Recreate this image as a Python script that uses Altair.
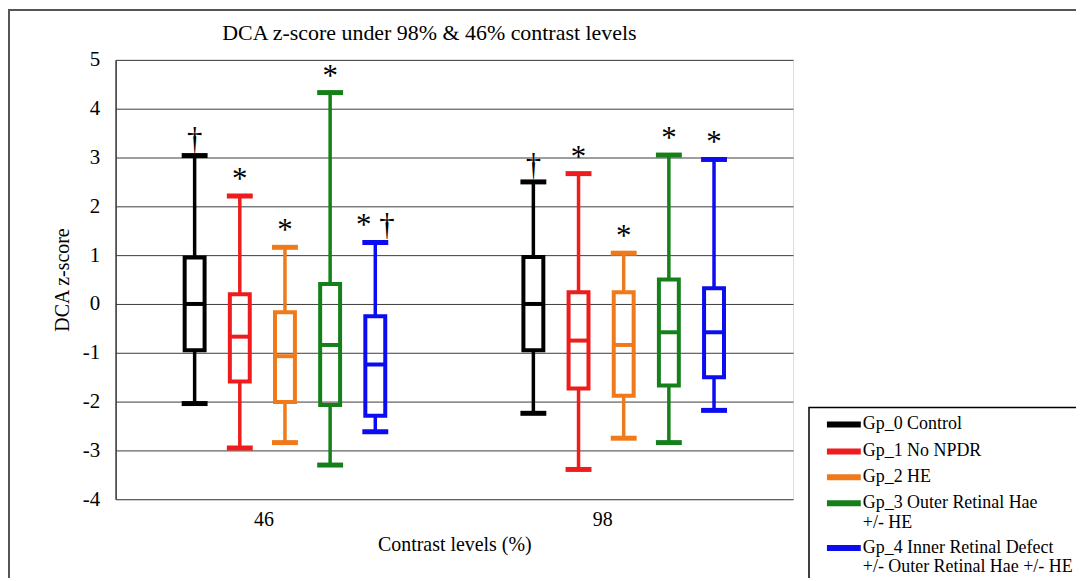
import altair as alt
import pandas as pd

levels = ["46", "98"]
groups = [
    "Gp_0 Control",
    "Gp_1 No NPDR",
    "Gp_2 HE",
    "Gp_3 Outer Retinal Hae|+/- HE",
    "Gp_4 Inner Retinal Defect|+/- Outer Retinal Hae +/- HE",
]
colors = ["#000000", "#ee1c1c", "#f07a1a", "#15801a", "#0c0cf0"]

# five-number summaries per group
low_46 = [-2.04, -2.95, -2.84, -3.30, -2.62]
q1_46 = [-0.95, -1.59, -2.01, -2.07, -2.29]
med_46 = [0.00, -0.67, -1.07, -0.84, -1.24]
q3_46 = [0.95, 0.20, -0.17, 0.41, -0.25]
high_46 = [3.04, 2.21, 1.16, 4.33, 1.26]
ann_46 = ["†", "*", "*", "*", "* †"]

low_98 = [-2.24, -3.39, -2.75, -2.84, -2.18]
q1_98 = [-0.95, -1.73, -1.88, -1.67, -1.50]
med_98 = [0.00, -0.75, -0.84, -0.58, -0.58]
q3_98 = [0.96, 0.24, 0.24, 0.50, 0.32]
high_98 = [2.50, 2.67, 1.04, 3.05, 2.96]
ann_98 = ["†", "*", "*", "*", "*"]

rows = []
for lvl, lo, a, m, b, hi, an in [
    ("46", low_46, q1_46, med_46, q3_46, high_46, ann_46),
    ("98", low_98, q1_98, med_98, q3_98, high_98, ann_98),
]:
    for i, g in enumerate(groups):
        rows.append({"level": lvl, "group": g, "low": lo[i], "q1": a[i],
                     "median": m[i], "q3": b[i], "high": hi[i], "ann": an[i]})
df = pd.DataFrame(rows)

FONT = "Liberation Serif"

xenc = alt.X("level:N", scale=alt.Scale(domain=levels, paddingInner=1 / 3, paddingOuter=1 / 6),
             axis=alt.Axis(labelAngle=0, tickSize=0, domain=False, labelFont=FONT,
                           labelFontSize=20, labelColor="black", labelPadding=10, labelOffset=-21,
                           title="Contrast levels (%)", titleFont=FONT, titleFontSize=20,
                           titleFontWeight="normal", titleColor="black", titlePadding=5))
xoff = alt.XOffset("group:N", scale=alt.Scale(domain=groups, paddingInner=0, paddingOuter=0))

yscale = alt.Scale(domain=[-4, 5], nice=False, zero=False)
yaxis = alt.Axis(values=list(range(-4, 6)), grid=True, gridColor="#3c3c3c", gridWidth=1,
                 tickSize=0, domainColor="#333333", domainWidth=1.5, labelFont=FONT,
                 labelFontSize=21, labelColor="black", labelPadding=16,
                 labelExpr="'' + datum.value",
                 title="DCA z-score", titleFont=FONT, titleFontSize=20,
                 titleFontWeight="normal", titleColor="black", titlePadding=10)


def Y(field):
    return alt.Y(f"{field}:Q", scale=yscale, axis=yaxis, title="DCA z-score")


cscale = alt.Scale(domain=groups, range=colors)
col = alt.Color("group:N", scale=cscale, legend=None)

base = alt.Chart(df).encode(x=xenc, xOffset=xoff)

whisk_lo = base.mark_rule(strokeWidth=3.5).encode(y=Y("low"), y2="q1:Q", color=col)
whisk_hi = base.mark_rule(strokeWidth=3.5).encode(y=Y("q3"), y2="high:Q", color=col)
box = base.mark_bar(filled=False, strokeWidth=4, size=20, opacity=1).encode(
    y=Y("q1"), y2="q3:Q", color=col)
median = base.mark_tick(thickness=4, size=22, opacity=1).encode(y=Y("median"), color=col)
cap_lo = base.mark_tick(thickness=5, size=26, opacity=1).encode(y=Y("low"), color=col)
cap_hi = base.mark_tick(thickness=5, size=26, opacity=1).encode(y=Y("high"), color=col)
ann = base.mark_text(font=FONT, fontSize=31, baseline="alphabetic", dy=-7, color="black").encode(
    y=Y("high"), text="ann:N")

one = pd.DataFrame({"k": [0]})

# outer figure frame
frame = alt.Chart(one).mark_rect(filled=False, stroke="#555555", strokeWidth=2).encode(
    x=alt.value(-107), x2=alt.value(2000), y=alt.value(-50), y2=alt.value(2000))

# legend (drawn by hand so that wrapped entries take their own height)
leg_box = alt.Chart(one).mark_rect(fill="white", stroke="black", strokeWidth=1.5).encode(
    x=alt.value(696), x2=alt.value(2000), y=alt.value(349), y2=alt.value(2000))
entry_y = [366, 393, 419, 445, 490]
cont_y = {3: [465], 4: [509]}
leg_layers = [leg_box]
for i, g in enumerate(groups):
    parts = g.split("|")
    leg_layers.append(alt.Chart(one).mark_rule(color=colors[i], strokeWidth=6).encode(
        x=alt.value(714), x2=alt.value(748), y=alt.value(entry_y[i])))
    leg_layers.append(alt.Chart(one).mark_text(
        text=parts[0], font=FONT, fontSize=18, color="black", align="left",
        baseline="middle").encode(x=alt.value(750), y=alt.value(entry_y[i])))
    for part, yy in zip(parts[1:], cont_y.get(i, [])):
        leg_layers.append(alt.Chart(one).mark_text(
            text=part, font=FONT, fontSize=18, color="black", align="left",
            baseline="middle").encode(x=alt.value(750), y=alt.value(yy)))

chart = alt.layer(frame, whisk_lo, whisk_hi, box, median, cap_lo, cap_hi, ann,
                  *leg_layers).properties(
    width=680, height=441,
    title=alt.Title("DCA z-score under 98% & 46% contrast  levels", font=FONT, fontSize=22,
                    fontWeight="normal", color="black", offset=-36, dx=-25, anchor="middle",
                    frame="group"),
    autosize=alt.AutoSizeParams(type="none"),
    padding={"left": 108, "top": 51, "right": 284, "bottom": 78},
).configure_view(stroke="#8a8a8a", strokeWidth=2).configure(background="white")

chart.save("out.html", embed_options={"renderer": "svg", "actions": False})
